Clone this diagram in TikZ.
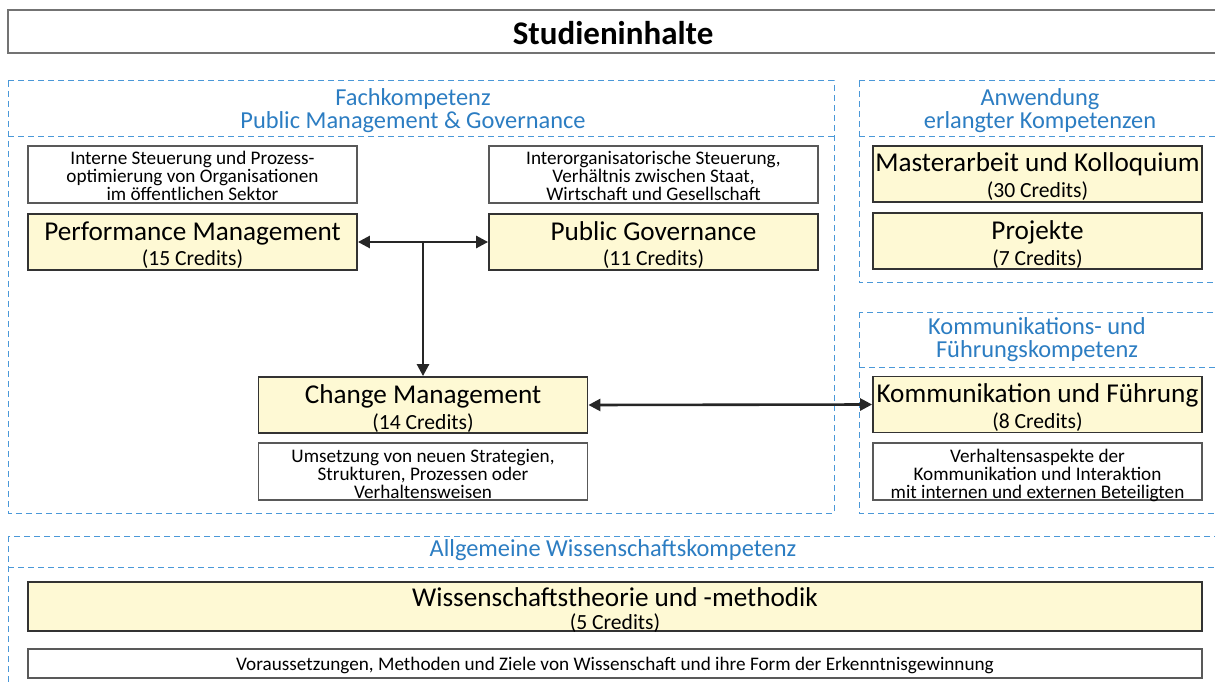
\documentclass[tikz,border=0pt]{standalone}
\usepackage{fontspec}
\setmainfont{Carlito}
\usetikzlibrary{arrows.meta}
\definecolor{rahmenblau}{HTML}{4A98D8}
\definecolor{kopfblau}{HTML}{2C7DC2}
\definecolor{modulgelb}{HTML}{FEF9D4}
\newcommand{\kp}[1]{\\{\fontsize{10.8}{13}\selectfont(#1 Credits)}}
\begin{document}
\begin{tikzpicture}
    [x=0.5pt,y=-0.5pt,
     modul/.style={draw=black!80, fill=modulgelb, line width=0.9pt, minimum width=164.5pt, minimum height=28pt, inner sep=0pt, align=center, font=\fontsize{13.6}{13}\selectfont\lineskiplimit-20pt, text height=26pt, text depth=2pt},
     inhalt/.style={draw=black!65, fill=white, line width=0.6pt, minimum width=164.5pt, minimum height=28.5pt, inner sep=0pt, align=center, font=\fontsize{9.6}{9}\selectfont\lineskiplimit-20pt, text height=27.5pt, text depth=1pt},
     bereich/.style={draw=rahmenblau, densely dashed, line width=0.5pt},
     kopf/.style={text=kopfblau, align=center, font=\fontsize{12.2}{11.5}\selectfont},
     pfeil/.style={{Triangle[length=6pt,width=6pt]}-{Triangle[length=6pt,width=6pt]}, line width=1.3pt, draw=black!85},
     runter/.style={-{Triangle[length=6pt,width=6pt]}, line width=1.3pt, draw=black!85} ]

    \useasboundingbox (0,0) rectangle (1215,684);
    \clip (0,0) rectangle (1215,684);

    % Titel
    \draw[draw=black!55, line width=1pt] (8,10) rectangle (1230,53);
    \node (titel) at (613,33) {\fontsize{16.5}{17}\selectfont\bfseries Studieninhalte};

    % Bereiche
    \draw[bereich] (8,81) rectangle (834,513);
    \draw[bereich] (8,137) -- (834,137);
    \draw[bereich] (859,81) rectangle (1230,283);
    \draw[bereich] (859,137) -- (1230,137);
    \draw[bereich] (859,312) rectangle (1230,513);
    \draw[bereich] (859,367) -- (1230,367);
    \draw[bereich] (8,536) rectangle (1230,700);
    \draw[bereich] (8,567) -- (1230,567);

    \node[kopf] (kfach) at (413,111) {Fachkompetenz\\Public Management \& Governance};
    \node[kopf] (kanw) at (1040,111) {Anwendung\\erlangter Kompetenzen};
    \node[kopf] (kkom) at (1037,340) {Kommunikations- und\\Führungskompetenz};
    \node[kopf] (kallg) at (613,550) {Allgemeine Wissenschaftskompetenz};

    % Fachkompetenz
    \node[inhalt] (tpm) at (192.5,174.5) {Interne Steuerung und Prozess-\\optimierung von Organisationen\\im öffentlichen Sektor};
    \node[modul] (pm) at (192.5,242) {Performance Management\kp{15}};
    \node[inhalt] (tpg) at (653.5,174.5) {Interorganisatorische Steuerung,\\Verhältnis zwischen Staat,\\Wirtschaft und Gesellschaft};
    \node[modul] (pg) at (653.5,242) {Public Governance\kp{11}};
    \node[modul] (cm) at (423,405) {Change Management\kp{14}};
    \node[inhalt] (tcm) at (423,471.5) {Umsetzung von neuen Strategien,\\Strukturen, Prozessen oder\\Verhaltensweisen};

    % Anwendung
    \node[modul] (ma) at (1037.5,174) {Masterarbeit und Kolloquium\kp{30}};
    \node[modul] (pj) at (1037.5,241) {Projekte\kp{7}};

    % Kommunikation
    \node[modul] (kf) at (1037.5,404.5) {Kommunikation und Führung\kp{8}};
    \node[inhalt] (tkf) at (1037.5,471.5) {Verhaltensaspekte der\\Kommunikation und Interaktion\\mit internen und externen Beteiligten};

    % Wissenschaft
    \node[modul, minimum width=587pt, minimum height=24.5pt, font=\fontsize{13.6}{11.5}\selectfont\lineskiplimit-20pt, text height=23.5pt, text depth=1pt] (wt) at (615,606.5) {Wissenschaftstheorie und -methodik\kp{5}};
    \node[inhalt, minimum width=587pt, minimum height=14.5pt, text height=10.5pt, text depth=4pt] (twt) at (615,663.5) {Voraussetzungen, Methoden und Ziele von Wissenschaft und ihre Form der Erkenntnisgewinnung};

    % Pfeile
    \coordinate (mitte) at (cm.north |- pm.east);
    \draw[pfeil] (pm.east) -- (pg.west);
    \draw[runter] (mitte) -- (cm.north);
    \draw[pfeil] (cm.east) -- (kf.west);

\end{tikzpicture}
\end{document}
